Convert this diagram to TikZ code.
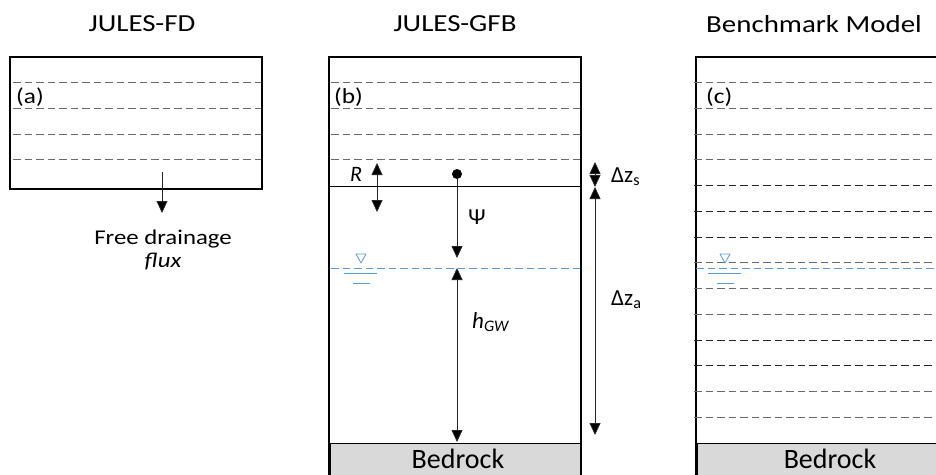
\documentclass[tikz,border=0pt]{standalone}
\usepackage{fontspec}
\setmainfont{Carlito}
\newfontfamily\widefont[FakeStretch=1.18]{Carlito}
\usepackage{tikz}
\usepackage{xcolor}
\usetikzlibrary{arrows.meta, positioning, calc}

\definecolor{wtblue}{HTML}{5B9BD5}
\definecolor{rockgray}{HTML}{D9D9D9}
\definecolor{layergray}{HTML}{6A6A6A}

\tikzset{
    frame/.style={draw=black, line width=1.8pt},
    layer/.style={draw=layergray, line width=1pt, dash pattern=on 7.5pt off 4pt},
    darklayer/.style={draw=black!85, line width=1pt, dash pattern=on 7.5pt off 4pt},
    wtable/.style={draw=wtblue, line width=1pt, dash pattern=on 7.5pt off 4pt},
    rock/.style={fill=rockgray, draw=black, line width=0.8pt},
    title/.style={font=\widefont\fontsize{24.5}{28}\selectfont, inner sep=0pt},
    tag/.style={font=\widefont\fontsize{21.5}{25}\selectfont, inner sep=0pt, anchor=west},
    lbl/.style={font=\fontsize{23}{27}\selectfont, inner sep=0pt},
    flow/.style={line width=0.8pt, draw=black!85, -{Triangle[width=11pt,length=12pt,fill=black]}},
    bothway/.style={line width=0.8pt, draw=black!85, {Triangle[width=11pt,length=12pt,fill=black]}-{Triangle[width=11pt,length=12pt,fill=black]}}
}

\begin{document}
\begin{tikzpicture}[x=1pt, y=-1pt]
    \useasboundingbox (0,0) rectangle (936,474);

    % =========================================================
    % COLUMN TITLES
    % =========================================================
    \node[title] (titleFD) at (142,24) {JULES-FD};
    \node[title] (titleGFB) at (455,24) {JULES-GFB};
    \node[title] (titleBench) at (814,24) {Benchmark Model};

    % =========================================================
    % (a) FREE DRAINAGE COLUMN
    % =========================================================
    \draw[frame] (10,57) rectangle (262,189);
    \foreach \ly in {82.5,108.25,134,159.75}
        \draw[layer] (13,\ly) -- (261,\ly);
    \node[tag] (tagA) at (16,97) {(a)};

    \coordinate (drainTop) at (162,172);
    \coordinate (drainEnd) at (162,213);
    \draw[flow] (drainTop) -- (drainEnd);
    \node[font=\widefont\fontsize{21}{25}\selectfont, inner sep=0pt] (drainText) at (163,239) {Free drainage};
    \node[font=\widefont\itshape\fontsize{21}{25}\selectfont, inner sep=0pt] (fluxText) at (163,262) {flux};

    % =========================================================
    % (b) GROUNDWATER COLUMN
    % =========================================================
    \draw[rock] (330,443) rectangle (580,490);
    \draw[frame] (329,490) -- (329,57) -- (581,57) -- (581,490);
    \foreach \ly in {82.5,108.25,134,159.75}
        \draw[layer] (331,\ly) -- (580,\ly);
    \draw[black, line width=0.8pt] (330,186) -- (581,186);
    \draw[wtable] (331,268) -- (580,268);
    \node[tag] (tagB) at (334,97) {(b)};
    \node[font=\fontsize{28}{32}\selectfont, inner sep=0pt] (rockB) at (458,459) {Bedrock};

    % recharge and matric head
    \coordinate (rechTop) at (377,163);
    \coordinate (rechEnd) at (377,212);
    \draw[bothway] (rechTop) -- (rechEnd);
    \node[lbl, font=\itshape\fontsize{22}{26}\selectfont] (rLbl) at (356,174) {R};

    \node[circle, fill=black, inner sep=0pt, minimum size=10pt] (headDot) at (457,174) {};
    \coordinate (psiEnd) at (457,258);
    \draw[flow] (headDot) -- (psiEnd);
    \node[lbl] (psiLbl) at (477,217) {Ψ};

    \coordinate (gwTop) at (457,268);
    \coordinate (gwBase) at (457,442);
    \draw[bothway] (gwTop) -- (gwBase);
    \node[lbl, anchor=base west] (hLbl) at (472,328) {\itshape h\textsubscript{GW}};

    % layer thicknesses
    \coordinate (zsTop) at (595,162);
    \coordinate (zsBase) at (595,187);
    \coordinate (zaBase) at (595,435);
    \draw[bothway] (zsTop) -- (zsBase);
    \draw[bothway] (zsBase) -- (zaBase);
    \node[lbl, anchor=base west] (zsLbl) at (611,182) {Δz\textsubscript{s}};
    \node[lbl, anchor=base west] (zaLbl) at (611,305) {Δz\textsubscript{a}};

    % =========================================================
    % (c) BENCHMARK COLUMN
    % =========================================================
    \draw[rock] (697,443) rectangle (950,490);
    \draw[frame] (696,490) -- (696,57) -- (950,57);
    \foreach \ly in {82.5,108.25,134,159.75,262.75,288.5,314.25,391.5,417.25}
        \draw[layer] (694,\ly) -- (936,\ly);
    \foreach \ly in {185.5,211.25,237,340,365.75}
        \draw[darklayer] (694,\ly) -- (936,\ly);
    \draw[wtable] (696,268) -- (936,268);
    \node[tag] (tagC) at (706,97) {(c)};
    \node[font=\fontsize{28}{32}\selectfont, inner sep=0pt] (rockC) at (830,459) {Bedrock};

    % =========================================================
    % WATER TABLE SYMBOLS
    % =========================================================
    \foreach \wx in {361,725} {
        \draw[wtblue, line width=0.8pt, line join=round] (\wx-5,254) -- (\wx+5,254) -- (\wx,263) -- cycle;
        \draw[wtblue, line width=1pt] (\wx-17,273) -- (\wx+16,273);
        \draw[wtblue, line width=1pt] (\wx-8,283) -- (\wx+9,283);
    }
\end{tikzpicture}
\end{document}
